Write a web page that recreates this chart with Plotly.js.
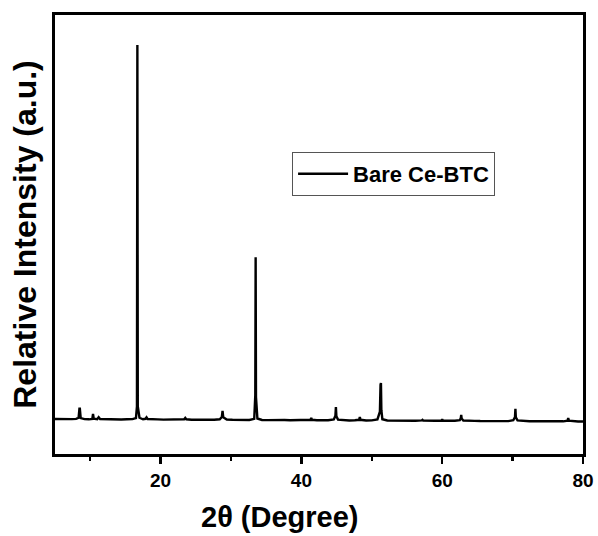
<!DOCTYPE html>
<html>
<head>
<meta charset="utf-8">
<script src="https://cdn.plot.ly/plotly-3.0.1.min.js"></script>
<style>html,body{margin:0;padding:0;background:#fff;}#chart{width:598px;height:536px;}</style>
</head>
<body>
<div id="chart"></div>
<script>
// 2θ (degree) positions
const twoTheta = [
  5.0, 5.6, 6.2, 6.8, 7.4, 8.0, 8.35, 8.47, 8.53, 8.65, 9.2, 9.8, 10.3, 10.4, 10.5, 11.0, 11.2, 11.4, 12.0, 12.8,
  13.6, 14.4, 15.2, 16.0, 16.5, 16.64, 16.7, 16.76, 17.0, 17.5, 17.85, 18.0, 18.15, 18.8, 19.6, 20.4, 21.2, 22.0, 22.8, 23.35,
  23.5, 23.65, 24.4, 25.2, 26.0, 26.8, 27.6, 28.4, 28.7, 28.8, 28.9, 29.4, 30.2, 31.0, 31.8, 32.6, 33.3, 33.45, 33.5, 33.55,
  33.75, 34.4, 35.2, 36.0, 36.8, 37.6, 38.4, 39.2, 40.0, 40.8, 41.3, 41.4, 41.5, 42.2, 43.0, 43.8, 44.6, 44.83, 44.9, 44.97,
  45.2, 46.0, 46.8, 47.6, 48.2, 48.3, 48.4, 49.2, 50.0, 50.8, 51.15, 51.24, 51.3, 51.36, 51.5, 52.2, 53.0, 53.8, 54.6, 55.4,
  56.2, 57.1, 57.2, 57.3, 58.2, 59.0, 59.9, 60.0, 60.1, 61.0, 61.8, 62.5, 62.64, 62.7, 62.76, 63.0, 63.8, 64.6, 65.4, 66.2,
  67.0, 67.8, 68.6, 69.4, 70.1, 70.34, 70.4, 70.46, 70.7, 71.6, 72.4, 73.2, 74.0, 74.8, 75.6, 76.4, 77.2, 77.8, 77.9, 78.0,
  78.6, 79.3, 80.0
];
// intensity (arbitrary counts)
const intensity = [
  66, 62, 68, 60, 63, 70, 100, 340, 340, 90, 64, 58, 70, 200, 75, 62, 115, 65, 60, 57,
  63, 55, 58, 62, 90, 400, 10000, 400, 100, 60, 72, 110, 66, 54, 57, 50, 55, 48, 52, 60,
  95, 58, 47, 52, 44, 50, 46, 58, 120, 280, 110, 52, 45, 42, 47, 40, 70, 700, 4360, 650,
  80, 42, 38, 44, 36, 40, 33, 38, 35, 40, 48, 95, 45, 33, 30, 34, 55, 150, 385, 140,
  50, 31, 28, 33, 45, 120, 45, 27, 30, 55, 260, 980, 1020, 300, 60, 26, 22, 25, 20, 24,
  19, 30, 45, 25, 18, 21, 26, 60, 24, 16, 19, 35, 90, 175, 80, 28, 14, 17, 12, 15,
  13, 10, 14, 11, 35, 120, 335, 110, 30, 10, 8, 11, 7, 9, 6, 8, 5, 20, 90, 22,
  4, 2, 0
];
const seriesName = "Bare Ce-BTC";
const xTickVals = [20, 40, 60, 80];
const xRange = [5, 80];
const yRange = [-863, 10797];
const xTitle = "2θ (Degree)";
const yTitle = "Relative Intensity (a.u.)";

const FONT = "Liberation Sans, Arial, Helvetica, sans-serif";

const trace = {
  x: twoTheta,
  y: intensity,
  type: "scatter",
  mode: "lines",
  name: seriesName,
  line: {color: "#000000", width: 2.4},
  showlegend: true
};

const layout = {
  width: 598,
  height: 536,
  margin: {l: 55, r: 15, t: 15, b: 82, pad: 0},
  paper_bgcolor: "#ffffff",
  plot_bgcolor: "#ffffff",
  font: {family: FONT, color: "#000000"},
  showlegend: true,
  legend: {
    x: 0.449, y: 0.688, xanchor: "left", yanchor: "top",
    bordercolor: "#555555", borderwidth: 1, bgcolor: "rgba(255,255,255,0)",
    font: {family: FONT, size: 22, color: "#000000", weight: "bold"},
    itemwidth: 50,
    tracegroupgap: 0
  },
  xaxis: {
    range: xRange,
    tickmode: "array",
    tickvals: xTickVals,
    ticktext: xTickVals.map(String),
    ticks: "outside",
    ticklen: 7,
    tickwidth: 2.5,
    tickcolor: "#000",
    showline: true,
    linecolor: "#000",
    linewidth: 3,
    mirror: true,
    showgrid: false,
    zeroline: false,
    tickfont: {family: FONT, size: 19, color: "#000", weight: "bold"},
    minor: {dtick: 10, tick0: 0, ticks: "outside", ticklen: 4, tickwidth: 2.5, tickcolor: "#000", showgrid: false}
  },
  yaxis: {
    range: yRange,
    showticklabels: false,
    ticks: "",
    showline: true,
    linecolor: "#000",
    linewidth: 3,
    mirror: true,
    showgrid: false,
    zeroline: false,
    title: {text: yTitle, font: {family: FONT, size: 32, color: "#000", weight: "bold"}, standoff: 6}
  },
  annotations: [{
    text: xTitle,
    xref: "paper", yref: "paper",
    x: 0.426, y: -0.1435,
    xanchor: "center", yanchor: "middle",
    showarrow: false,
    font: {family: FONT, size: 29, color: "#000", weight: "bold"}
  }]
};

Plotly.newPlot("chart", [trace], layout, {displayModeBar: false, staticPlot: true});
</script>
</body>
</html>
